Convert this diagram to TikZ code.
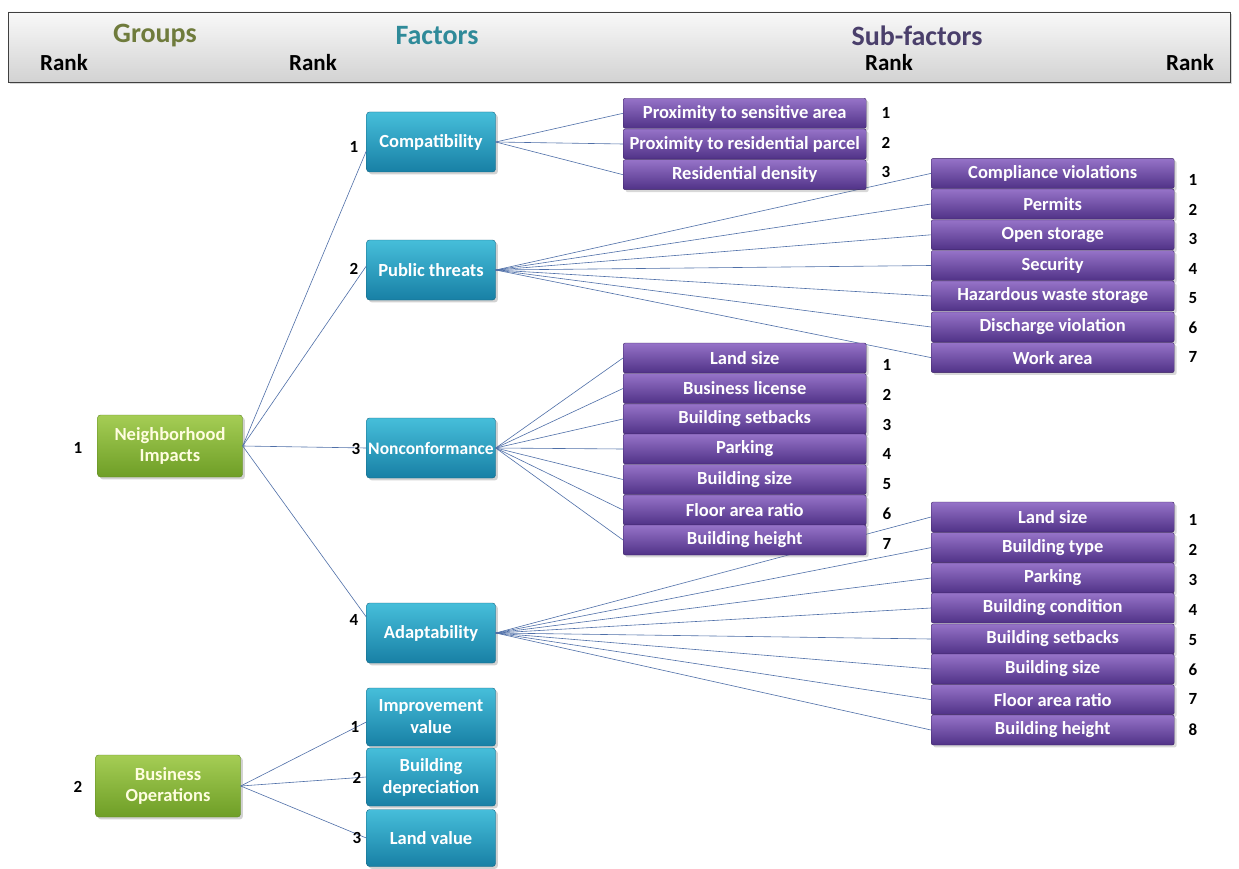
\documentclass[tikz,border=0pt]{standalone}
\usepackage{fontspec}
\setmainfont{Carlito}
\usetikzlibrary{shadows}
\definecolor{conncol}{HTML}{4F6FA8}
\definecolor{grouptxt}{HTML}{6F7B3C}
\definecolor{factortxt}{HTML}{2F8A99}
\definecolor{subtxt}{HTML}{4A3F6B}
\definecolor{gtop}{RGB}{165,205,85}
\definecolor{gbot}{RGB}{110,158,38}
\definecolor{gdraw}{RGB}{95,135,35}
\definecolor{ttop}{RGB}{70,190,218}
\definecolor{tbot}{RGB}{24,128,165}
\definecolor{tdraw}{RGB}{20,100,130}
\definecolor{ptop}{RGB}{150,115,200}
\definecolor{pbot}{RGB}{80,50,135}
\definecolor{pdraw}{RGB}{60,35,100}
\tikzset{
  conn/.style={draw=conncol, line width=0.6pt},
  groupbox/.style={draw=gdraw, top color=gtop, bottom color=gbot, rounded corners=3pt,
    minimum width=145pt, minimum height=62pt, align=center, text=yellow!12!white,
    font=\fontsize{18.5}{21}\selectfont\bfseries, drop shadow={opacity=0.35}},
  factorbox/.style={draw=tdraw, top color=ttop, bottom color=tbot, rounded corners=3pt,
    minimum width=129pt, minimum height=60pt, align=center, text=white,
    font=\fontsize{18.5}{22}\selectfont\bfseries, drop shadow={opacity=0.35}},
  subbox/.style={draw=pdraw, top color=ptop, bottom color=pbot, rounded corners=2pt,
    minimum width=243pt, minimum height=30pt, inner sep=1pt, text=white,
    font=\fontsize{18.5}{20}\selectfont\bfseries, drop shadow={opacity=0.3}},
  ranklbl/.style={text=black, font=\fontsize{17}{18}\selectfont\bfseries, inner sep=1pt},
  headrank/.style={text=black, font=\fontsize{23}{24}\selectfont\bfseries, inner sep=1pt},
  headtitle/.style={font=\fontsize{28}{30}\selectfont\bfseries, inner sep=1pt},
}
\begin{document}
\begin{tikzpicture}[x=1pt,y=-1pt]
\useasboundingbox (0,0) rectangle (1239,869);
\fill[white] (0,0) rectangle (1239,869);
% header
\node[draw=black!75, line width=0.8pt, top color=gray!5, bottom color=gray!35, minimum width=1222pt, minimum height=70pt, inner sep=0pt, drop shadow={opacity=0.3}] (header) at (619,47) {};
\node[headtitle, text=grouptxt] (hG) at (155,36) {Groups};
\node[headtitle, text=factortxt] (hF) at (437,36) {Factors};
\node[headtitle, text=subtxt] (hS) at (917,36) {Sub-factors};
\node[headrank] (hR1) at (64,63) {Rank};
\node[headrank] (hR2) at (313,63) {Rank};
\node[headrank] (hR3) at (889,63) {Rank};
\node[headrank] (hR4) at (1190,63) {Rank};

% group nodes
\node[groupbox] (gNI) at (170,446) {Neighborhood\\Impacts};
\node[groupbox] (gBO) at (168,786) {Business\\Operations};
\node[ranklbl] (rNI) at (78,448) {1};
\node[ranklbl] (rBO) at (78,787) {2};

% factor nodes
\node[factorbox] (fComp) at (431,142) {Compatibility};
\node[factorbox] (fPub) at (431,270) {Public threats};
\node[factorbox, inner xsep=1pt, font=\fontsize{17.5}{19}\selectfont\bfseries] (fNon) at (431,448) {Nonconformance};
\node[factorbox] (fAda) at (431,633) {Adaptability};
\node[factorbox, minimum height=58pt] (fImp) at (431,717) {Improvement\\value};
\node[factorbox, minimum height=58pt] (fDep) at (431,777) {Building\\depreciation};
\node[factorbox, minimum height=57pt] (fLand) at (431,838) {Land value};

% connectors group -> factor
\draw[conn] (gNI.east) -- ([yshift=-9pt]fComp.west);
\draw[conn] (gNI.east) -- ([yshift=4pt]fPub.west);
\draw[conn] (gNI.east) -- (fNon.west);
\draw[conn] (gNI.east) -- ([yshift=16pt]fAda.west);
\draw[conn] (gBO.east) -- ([yshift=-5pt]fImp.west);
\draw[conn] (gBO.east) -- (fDep.west);
\draw[conn] (gBO.east) -- (fLand.west);

\node[ranklbl] (rComp) at (354,147) {1};
\node[ranklbl] (rPub) at (354,269) {2};
\node[ranklbl] (rNon) at (356,449) {3};
\node[ranklbl] (rAda) at (354,620) {4};
\node[ranklbl] (rImp) at (355,727) {1};
\node[ranklbl] (rDep) at (357,778) {2};
\node[ranklbl] (rLand) at (357,838) {3};

% connectors factor -> sub-factors (drawn before boxes so boxes cover them)
\foreach \i/\y in {1/113.3,2/144,3/174.7}{\coordinate (pC\i) at (623,\y);}
\foreach \i/\y in {1/173.4,2/204,3/234.8,4/265.5,5/296,6/327,7/357.6}{\coordinate (pP\i) at (931,\y);}
\foreach \i/\y in {1/358,2/388.5,3/419,4/449,5/479.5,6/510,7/540}{\coordinate (pN\i) at (623,\y);}
\foreach \i/\y in {1/517,2/547.6,3/578,4/608,5/639,6/669,7/699.6,8/730}{\coordinate (pA\i) at (931,\y);}
\foreach \i in {1,2,3}{\draw[conn] (fComp.east) -- (pC\i);}
\foreach \i in {1,...,7}{\draw[conn] (fPub.east) -- (pP\i);}
\foreach \i in {1,...,7}{\draw[conn] (fNon.east) -- (pN\i);}
\foreach \i in {1,...,8}{\draw[conn] (fAda.east) -- (pA\i);}

% sub-factor boxes
\foreach \t [count=\i] in {Proximity to sensitive area,Proximity to residential parcel,Residential density}{
  \node[subbox, anchor=west] (sC\i) at (pC\i) {\t};
  \node[ranklbl] (rC\i) at (886,{113+29.5*(\i-1)}) {\i};
}
\foreach \t [count=\i] in {Compliance violations,Permits,Open storage,Security,Hazardous waste storage,Discharge violation,Work area}{
  \node[subbox, anchor=west] (sP\i) at (pP\i) {\t};
  \node[ranklbl] (rP\i) at (1193,{180+29.5*(\i-1)}) {\i};
}
\foreach \t [count=\i] in {Land size,Business license,Building setbacks,Parking,Building size,Floor area ratio,Building height}{
  \node[subbox, anchor=west] (sN\i) at (pN\i) {\t};
  \node[ranklbl] (rN\i) at (887,{365+29.8*(\i-1)}) {\i};
}
\foreach \t [count=\i] in {Land size,Building type,Parking,Building condition,Building setbacks,Building size,Floor area ratio,Building height}{
  \node[subbox, anchor=west] (sA\i) at (pA\i) {\t};
  \node[ranklbl] (rA\i) at (1193,{520+29.9*(\i-1)}) {\i};
}
\end{tikzpicture}
\end{document}
